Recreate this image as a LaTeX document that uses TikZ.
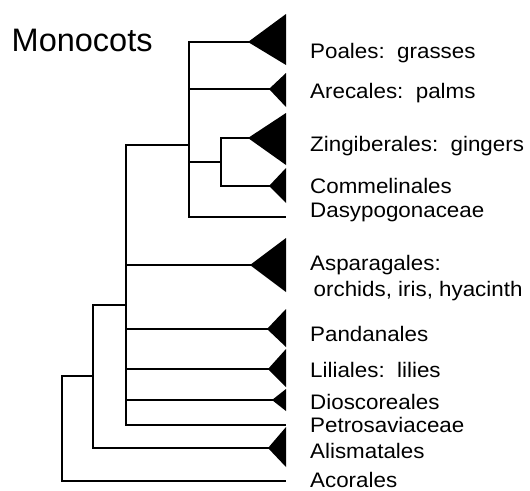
\documentclass[tikz,border=0pt]{standalone}
\usepackage{fontspec}
\setmainfont{Liberation Sans}
\newfontfamily\labelfont[FakeStretch=1.065]{Liberation Sans}
\begin{document}
\begin{tikzpicture}[x=1pt,y=-1pt,
  branch/.style={line width=2.1pt,line join=miter,line cap=rect},
  clade/.style={fill=black,draw=none},
  taxon/.style={anchor=base west,inner sep=0pt,font=\labelfont\fontsize{21}{25}\selectfont},
  titletext/.style={anchor=base west,inner sep=0pt,font=\fontsize{32.5}{38}\selectfont}]
\useasboundingbox (0,0) rectangle (530,490);
% title
\node[titletext] (title) at (11.5,51.7) {Monocots};
% internal nodes
\coordinate (nR) at (62,376);
\coordinate (n1) at (93,376);
\coordinate (n2) at (126,305);
\coordinate (n3) at (189,145);
\coordinate (n4) at (221,162);
% leaf tips
\coordinate (poa) at (248,42);
\coordinate (are) at (269,89);
\coordinate (zin) at (248,138);
\coordinate (com) at (269,186);
\coordinate (das) at (285,217);
\coordinate (asp) at (250,265);
\coordinate (pan) at (267,329);
\coordinate (lil) at (268,369);
\coordinate (dio) at (272,400);
\coordinate (pet) at (285,425);
\coordinate (ali) at (268,448);
\coordinate (aco) at (285,481);
% clade triangles
\fill[clade] (poa) -- (286,14) -- (286,65) -- cycle;
\fill[clade] (are) -- (286,73) -- (286,107) -- cycle;
\fill[clade] (zin) -- (286,113) -- (286,165) -- cycle;
\fill[clade] (com) -- (286,168) -- (286,203) -- cycle;
\fill[clade] (asp) -- (286,238) -- (286,292) -- cycle;
\fill[clade] (pan) -- (286,309) -- (286,347) -- cycle;
\fill[clade] (lil) -- (286,349) -- (286,387) -- cycle;
\fill[clade] (dio) -- (286,389) -- (286,411) -- cycle;
\fill[clade] (ali) -- (286,427) -- (286,467) -- cycle;
% branches
\draw[branch] (nR) |- (n1);
\draw[branch] (nR) |- (aco);
\draw[branch] (n1) |- (n2);
\draw[branch] (n1) |- (ali);
\draw[branch] (n2) |- (n3);
\draw[branch] (n2) |- (asp);
\draw[branch] (n2) |- (pan);
\draw[branch] (n2) |- (lil);
\draw[branch] (n2) |- (dio);
\draw[branch] (n2) |- (pet);
\draw[branch] (n3) |- (poa);
\draw[branch] (n3) |- (are);
\draw[branch] (n3) |- (n4);
\draw[branch] (n3) |- (das);
\draw[branch] (n4) |- (zin);
\draw[branch] (n4) |- (com);
% labels
\node[taxon] (lpoa) at (310,58.3) {Poales:\ \ grasses};
\node[taxon] (lare) at (310,98.3) {Arecales:\ \ palms};
\node[taxon] (lzin) at (310,151.7) {Zingiberales:\ \ gingers};
\node[taxon] (lcom) at (310,193.3) {Commelinales};
\node[taxon] (ldas) at (310,217.7) {Dasypogonaceae};
\node[taxon] (lasp) at (310,270.7) {Asparagales:};
\node[taxon] (lasp2) at (313.5,296.7) {orchids, iris, hyacinth};
\node[taxon] (lpan) at (310,341) {Pandanales};
\node[taxon] (llil) at (310,377.3) {Liliales:\ \ lilies};
\node[taxon] (ldio) at (310,409) {Dioscoreales};
\node[taxon] (lpet) at (310,432.3) {Petrosaviaceae};
\node[taxon] (lali) at (310,458.3) {Alismatales};
\node[taxon] (laco) at (310,487.8) {Acorales};
\end{tikzpicture}
\end{document}
